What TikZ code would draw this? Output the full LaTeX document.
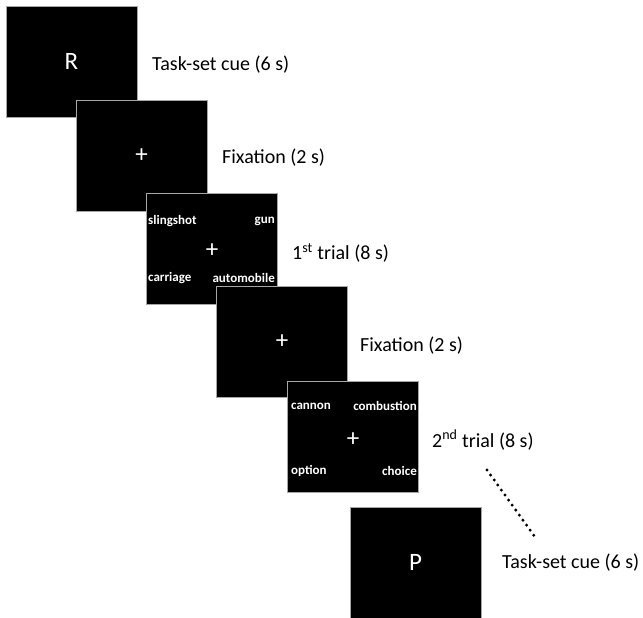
\documentclass[tikz,border=0pt]{standalone}
\usepackage{fontspec}
\setmainfont{Carlito}
\begin{document}
\begin{tikzpicture}[x=1pt,y=-1pt,
  screen/.style={rectangle,fill=black,draw=gray!70,line width=0.8pt,minimum width=131pt,minimum height=111pt,inner sep=0pt},
  lbl/.style={anchor=west,font=\fontsize{20}{24}\selectfont,inner sep=0pt},
  big/.style={text=white,font=\fontsize{25}{29}\selectfont,inner sep=0pt},
  word/.style={text=white,font=\fontsize{13}{15}\selectfont\bfseries,inner sep=0pt}]
\useasboundingbox (0,0) rectangle (643,618);
% screens
\node[screen] (s1) at (71.5,61.5) {};
\node[big] (r) at (s1.center) {R};
\node[screen] (s2) at (141.5,155.5) {};
\node[big] (f1) at (s2.center) {+};
\node[screen] (s3) at (212,248.5) {};
\node[big] (p3) at (212,251) {+};
\node[word,anchor=west] (w1) at (148,221) {slingshot};
\node[word,anchor=east] (w2) at (275,221) {gun};
\node[word,anchor=west] (w3) at (148,278) {carriage};
\node[word,anchor=east] (w4) at (275,278) {automobile};
\node[screen] (s4) at (282,342) {};
\node[big] (f2) at (s4.center) {+};
\node[screen] (s5) at (353,437) {};
\node[big] (p5) at (353,440) {+};
\node[word,anchor=west] (v1) at (291,406) {cannon};
\node[word,anchor=east] (v2) at (417,406) {combustion};
\node[word,anchor=west] (v3) at (291,471) {option};
\node[word,anchor=east] (v4) at (417,471) {choice};
\node[screen] (s6) at (415.5,562.5) {};
\node[big] (pp) at (s6.center) {P};
% labels
\node[lbl] (l1) at (152,65) {Task-set cue (6 s)};
\node[lbl] (l2) at (222,158) {Fixation (2 s)};
\node[lbl] (l3) at (292,253) {1\textsuperscript{st} trial (8 s)};
\node[lbl] (l4) at (360,346) {Fixation (2 s)};
\node[lbl] (l5) at (432,440) {2\textsuperscript{nd} trial (8 s)};
\node[lbl] (l6) at (502,563) {Task-set cue (6 s)};
% dotted continuation
\coordinate (d1) at (487,470);
\coordinate (d2) at (534,535.5);
\draw[line width=3.3pt,line cap=round,dash pattern=on 0pt off 6.17pt] (d1) -- (d2);
\end{tikzpicture}
\end{document}
